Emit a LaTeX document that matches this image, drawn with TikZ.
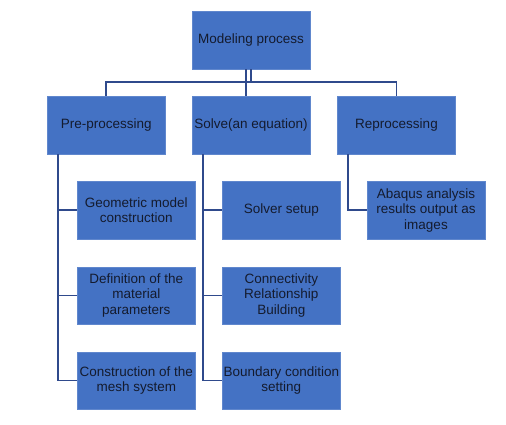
\documentclass[tikz,border=0pt]{standalone}
\usepackage{fontspec}
\setmainfont{Liberation Sans}
\definecolor{boxblue}{HTML}{4472C4}
\definecolor{linkblue}{HTML}{2F4A8C}
\definecolor{txt}{HTML}{141B2E}
\begin{document}
\begin{tikzpicture}[x=1pt,y=-1pt,
  box/.style={fill=boxblue, draw=boxblue!85!white, line width=0.4pt, text=txt,
    minimum width=118pt, minimum height=58pt, align=center, inner sep=0pt,
    font=\fontsize{13.5}{15.4}\selectfont},
  kid/.style={box, minimum width=117.5pt, minimum height=57.5pt},
  conn/.style={draw=linkblue, line width=1.8pt}]
\useasboundingbox (0,0) rectangle (506,424);
\fill[white] (0,0) rectangle (506,424);

\node[box] (top) at (251,40) {Modeling process};
\node[box] (pre) at (106.2,125) {Pre-processing};
\node[box] (solve) at (251,125) {Solve(an equation)};
\node[box] (rep) at (396.5,125) {Reprocessing};

\node[kid] (g1) at (136.3,210.3) {Geometric model\\construction};
\node[kid] (g2) at (136.3,295.5) {Definition of the\\material\\parameters};
\node[kid] (g3) at (136.3,380.5) {Construction of the\\mesh system};

\node[kid] (s1) at (281.3,210.3) {Solver setup};
\node[kid] (s2) at (281.3,295.5) {Connectivity\\Relationship\\Building};
\node[kid] (s3) at (281.3,380.5) {Boundary condition\\setting};

\node[kid] (r1) at (426,210.3) {Abaqus analysis\\results output as\\images};

\coordinate (bus) at (251,82.3);
\draw[conn] (top.south) -- (bus);
\draw[conn] (pre.north) |- (bus) -| (rep.north);
\draw[conn] ([xshift=-5pt]top.south) -- ([xshift=-5pt]solve.north);

\foreach \c in {g1,g2,g3}{\draw[conn] ([xshift=11pt]pre.south west) |- (\c.west);}
\foreach \c in {s1,s2,s3}{\draw[conn] ([xshift=11pt]solve.south west) |- (\c.west);}
\draw[conn] ([xshift=11pt]rep.south west) |- (r1.west);
\end{tikzpicture}
\end{document}
